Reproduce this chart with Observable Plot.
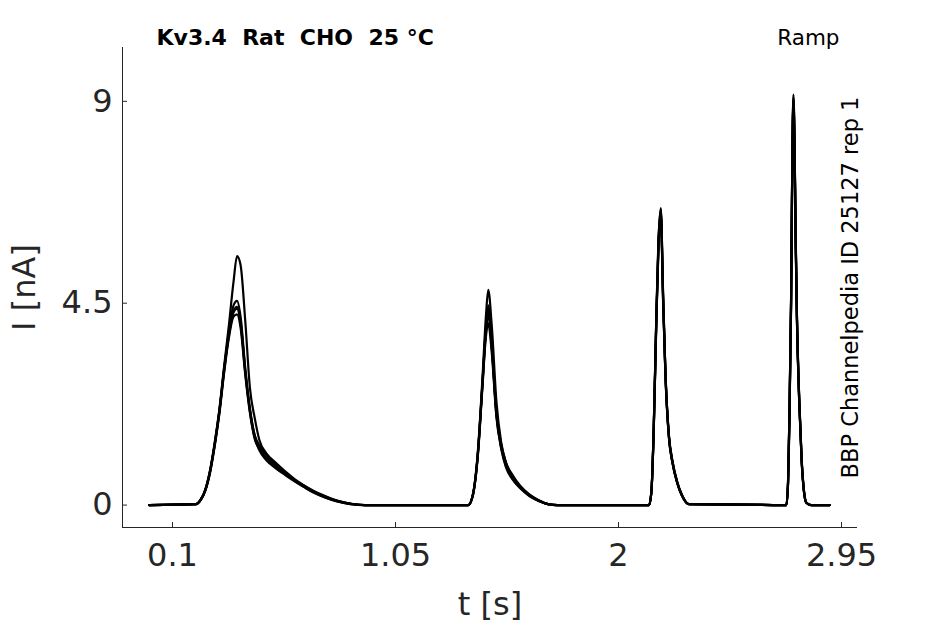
<!DOCTYPE html>
<html>
<head>
<meta charset="utf-8">
<script src="https://cdn.jsdelivr.net/npm/d3@7"></script>
<script src="https://cdn.jsdelivr.net/npm/@observablehq/plot@0.6"></script>
<style>
  html, body { margin: 0; padding: 0; background: #fff; }
  svg { display: block; }
</style>
</head>
<body>
<div id="chart"></div>
<script>
// ---- data ----
const title = "Kv3.4  Rat  CHO  25 °C";
const protocol = "Ramp";
const sideNote = "BBP Channelpedia ID 25127 rep 1";
const xLabel = "t [s]";
const yLabel = "I [nA]";
const xTicks = [0.1, 1.05, 2, 2.95];
const yTicks = [0, 4.5, 9];
const xDomain = [-0.113, 3.018];
const yDomain = [-0.5, 10.2];

// time samples (s)
const time = [
  0, 0.20, 0.22, 0.24, 0.26, 0.28, 0.30, 0.32, 0.34, 0.36, 0.375, 0.39, 0.41, 0.43, 0.45, 0.47, 0.50, 0.54, 0.58, 0.62, 0.66, 0.70, 0.75, 0.80, 0.86, 0.92,
  1.36, 1.38, 1.40, 1.42, 1.435, 1.445, 1.46, 1.48, 1.50, 1.52, 1.55, 1.58, 1.62, 1.66, 1.70, 1.74,
  2.13, 2.14, 2.15, 2.16, 2.17, 2.18, 2.19, 2.20, 2.215, 2.23, 2.25, 2.27, 2.30,
  2.715, 2.722, 2.728, 2.735, 2.74, 2.745, 2.75, 2.755, 2.76, 2.77, 2.78, 2.79, 2.80, 2.82, 2.90
];

// current (nA) per sweep
const sweep1 = [
  0, 0.02, 0.12, 0.35, 0.78, 1.4, 2.15, 3.1, 4.0, 4.98, 5.55, 5.35, 4.1, 2.6, 1.95, 1.45, 1.15, 0.92, 0.72, 0.56, 0.43, 0.31, 0.19, 0.1, 0.03, 0,
  0, 0.25, 1.15, 2.8, 4.2, 4.8, 4.0, 2.3, 1.4, 0.95, 0.62, 0.42, 0.23, 0.1, 0.02, 0,
  0, 0.3, 1.75, 4.0, 5.9, 6.62, 4.7, 2.95, 1.55, 0.98, 0.52, 0.23, 0.02,
  0, 0.5, 2.0, 4.6, 7.6, 9.15, 8.05, 5.9, 4.25, 2.35, 1.05, 0.32, 0.06, 0, 0
];
const sweep2 = [
  0, 0.02, 0.12, 0.34, 0.76, 1.38, 2.12, 3.05, 3.85, 4.45, 4.55, 4.2, 3.05, 2.15, 1.55, 1.3, 1.12, 0.9, 0.72, 0.56, 0.43, 0.3, 0.18, 0.09, 0.03, 0,
  0, 0.24, 1.1, 2.7, 3.95, 4.45, 3.6, 2.05, 1.32, 0.93, 0.63, 0.42, 0.22, 0.1, 0.02, 0,
  0, 0.3, 1.7, 3.9, 5.8, 6.55, 4.6, 2.9, 1.5, 0.95, 0.5, 0.22, 0.02,
  0, 0.48, 1.95, 4.5, 7.5, 9.05, 7.95, 5.8, 4.2, 2.3, 1.0, 0.3, 0.05, 0, 0
];
const sweep3 = [
  0, 0.02, 0.11, 0.33, 0.74, 1.35, 2.08, 3.0, 3.78, 4.3, 4.38, 4.05, 2.95, 2.08, 1.5, 1.22, 1.0, 0.82, 0.67, 0.53, 0.4, 0.28, 0.17, 0.09, 0.02, 0,
  0, 0.23, 1.08, 2.65, 3.85, 4.25, 3.5, 2.0, 1.26, 0.85, 0.56, 0.38, 0.21, 0.09, 0.02, 0,
  0, 0.29, 1.68, 3.88, 5.75, 6.5, 4.55, 2.88, 1.5, 0.94, 0.5, 0.21, 0.02,
  0, 0.47, 1.93, 4.45, 7.45, 9.0, 7.9, 5.75, 4.15, 2.28, 1.0, 0.3, 0.05, 0, 0
];
const sweep4 = [
  0, 0.02, 0.11, 0.32, 0.72, 1.32, 2.05, 2.95, 3.72, 4.2, 4.25, 3.95, 2.9, 2.05, 1.48, 1.25, 1.06, 0.86, 0.7, 0.54, 0.41, 0.29, 0.17, 0.08, 0.02, 0,
  0, 0.22, 1.05, 2.6, 3.75, 4.05, 3.4, 1.95, 1.28, 0.88, 0.58, 0.39, 0.2, 0.09, 0.02, 0,
  0, 0.28, 1.65, 3.85, 5.7, 6.45, 4.5, 2.85, 1.48, 0.93, 0.49, 0.21, 0.02,
  0, 0.46, 1.9, 4.4, 7.4, 8.95, 7.85, 5.7, 4.1, 2.25, 0.98, 0.29, 0.05, 0, 0
];
const sweep5 = [
  0, 0.02, 0.12, 0.34, 0.75, 1.36, 2.1, 3.02, 3.8, 4.32, 4.42, 4.1, 3.0, 2.12, 1.56, 1.33, 1.14, 0.94, 0.75, 0.58, 0.44, 0.32, 0.2, 0.1, 0.03, 0,
  0, 0.24, 1.1, 2.68, 3.9, 4.35, 3.55, 2.06, 1.36, 0.96, 0.66, 0.44, 0.24, 0.11, 0.02, 0,
  0, 0.3, 1.72, 3.95, 5.85, 6.6, 4.65, 2.92, 1.52, 0.96, 0.51, 0.22, 0.02,
  0, 0.49, 1.98, 4.55, 7.55, 9.1, 8.0, 5.85, 4.22, 2.32, 1.02, 0.31, 0.05, 0, 0
];
const sweepNames = ["sweep1", "sweep2", "sweep3", "sweep4", "sweep5"];
const sweeps = [sweep1, sweep2, sweep3, sweep4, sweep5];

// ---- table ----
const rows = [];
sweeps.forEach((s, k) => time.forEach((t, i) => rows.push({t, I: s[i], sweep: sweepNames[k]})));

const ink = "#262626";
const fmt = d => String(d);
const chart = Plot.plot({
  width: 945,
  height: 624,
  marginLeft: 122,
  marginRight: 88,
  marginTop: 47,
  marginBottom: 97,
  style: {fontFamily: "'DejaVu Sans', sans-serif", fontSize: "32px", color: ink, background: "#fff"},
  x: {domain: xDomain},
  y: {domain: yDomain},
  marks: [
    Plot.ruleX([xDomain[0]], {stroke: ink, strokeWidth: 1}),
    Plot.ruleY([yDomain[0]], {stroke: ink, strokeWidth: 1}),
    Plot.axisX(xTicks, {tickSize: -5, tickPadding: 21, tickFormat: fmt, label: null, stroke: ink, fill: ink, fontSize: 32}),
    Plot.axisY(yTicks, {tickSize: -5, tickPadding: 15, tickFormat: fmt, label: null, stroke: ink, fill: ink, fontSize: 32}),
    Plot.line(rows, {x: "t", y: "I", z: "sweep", stroke: "#000", strokeWidth: 2.2, curve: "monotone-x"}),
    Plot.text([title], {frameAnchor: "top-left", dx: 34, dy: -3, lineAnchor: "bottom", textAnchor: "start", fontWeight: "bold", fontSize: 22, fill: "#000"}),
    Plot.text([protocol], {frameAnchor: "top-right", dx: -18, dy: -3, lineAnchor: "bottom", textAnchor: "end", fontSize: 21.5, fill: "#000"}),
    Plot.text([sideNote], {frameAnchor: "right", dx: -7, rotate: -90, textAnchor: "middle", lineAnchor: "middle", fontSize: 22.5, fill: "#000"}),
    Plot.text([yLabel], {frameAnchor: "left", dx: -98, rotate: -90, textAnchor: "middle", lineAnchor: "middle", fontSize: 32, fill: ink}),
    Plot.text([xLabel], {frameAnchor: "bottom", dy: 77, textAnchor: "middle", lineAnchor: "middle", fontSize: 32, fill: ink})
  ]
});
document.getElementById("chart").appendChild(chart);
</script>
</body>
</html>
